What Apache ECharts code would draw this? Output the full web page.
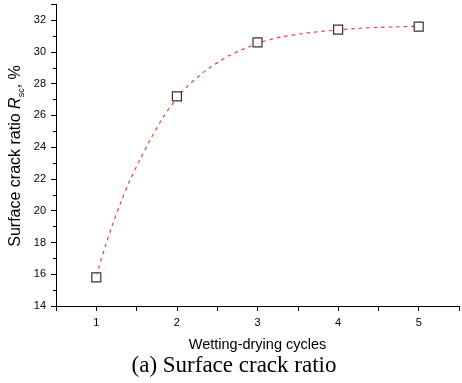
<!DOCTYPE html>
<html>
<head>
<meta charset="utf-8">
<script src="https://cdn.jsdelivr.net/npm/echarts@6/dist/echarts.min.js"></script>
<style>
html,body{margin:0;padding:0;background:#fff;}
#c{width:462px;height:383px;}
</style>
</head>
<body>
<div id="c"></div>
<script>
// Measured points
var cycles = [1, 2, 3, 4, 5];
var crackRatio = [15.8, 27.2, 30.6, 31.4, 31.6];
// Fitted curve
var fitX = [1.0, 1.11, 1.2, 1.3, 1.42, 1.54, 1.67, 1.83, 2.0, 2.13, 2.27, 2.39, 2.52, 2.65, 2.79, 2.91, 3.0, 3.16, 3.3, 3.56, 3.69, 3.83, 4.0, 4.21, 4.34, 4.47, 4.73, 4.86, 5.0];
var fitY = [15.9, 17.74, 19.1, 20.48, 21.95, 23.2, 24.47, 25.9, 27.1, 27.84, 28.47, 28.95, 29.38, 29.77, 30.1, 30.35, 30.55, 30.78, 30.95, 31.16, 31.24, 31.31, 31.39, 31.47, 31.51, 31.54, 31.58, 31.6, 31.61];
// Axis settings
var xTickLabels = ['1', '2', '3', '4', '5'];
var yMin = 14, yMax = 33, yStep = 2;

var pts = cycles.map(function (c, i) { return [c, crackRatio[i]]; });
var fit = fitX.map(function (x, i) { return [x, fitY[i]]; });

var sans = 'Liberation Sans, Arial, sans-serif';
var chart = echarts.init(document.getElementById('c'));
chart.setOption({
  animation: false,
  backgroundColor: '#fff',
  grid: { left: 56, right: 0, top: 4.3, bottom: 77 },
  xAxis: {
    type: 'value', min: 0.5, max: 5.5, interval: 0.5,
    axisLine: { lineStyle: { color: '#000', width: 1 } },
    axisTick: { show: true, inside: false, length: 5, lineStyle: { color: '#000' } },
    minorTick: { show: false },
    splitLine: { show: false },
    axisLabel: {
      color: '#000', fontSize: 11, fontFamily: sans, margin: 11,
      formatter: function (v) {
        var i = xTickLabels.indexOf(String(v));
        return i >= 0 ? xTickLabels[i] : '';
      }
    },
    name: 'Wetting-drying cycles', nameLocation: 'middle', nameGap: 31,
    nameTextStyle: { color: '#000', fontSize: 14.5, fontFamily: sans }
  },
  yAxis: {
    type: 'value', min: yMin, max: yMax, interval: yStep,
    axisLine: { show: true, lineStyle: { color: '#000', width: 1 } },
    axisTick: { show: true, inside: false, length: 5, lineStyle: { color: '#000' } },
    minorTick: { show: true, splitNumber: 2, length: 3, lineStyle: { color: '#000' } },
    splitLine: { show: false },
    axisLabel: {
      color: '#000', fontSize: 11, fontFamily: sans, margin: 10,
      formatter: function (v) { return (v % 2 === 0) ? String(v) : ''; }
    }
  },
  graphic: [
    {
      type: 'text', x: 16, y: 156, rotation: Math.PI / 2,
      style: {
        text: '{a|Surface crack ratio }{i|R}{s|sc}{a|, %}',
        align: 'center', verticalAlign: 'middle',
        rich: {
          a: { fontSize: 16, fontFamily: sans, fill: '#000', lineHeight: 20 },
          i: { fontSize: 16, fontFamily: sans, fontStyle: 'italic', fill: '#000', lineHeight: 20 },
          s: { fontSize: 9, fontFamily: sans, fill: '#000', lineHeight: 12, verticalAlign: 'bottom' }
        }
      }
    },
    {
      type: 'text', x: 234, y: 366,
      style: {
        text: '(a) Surface crack ratio',
        align: 'center', verticalAlign: 'middle',
        font: '23px "Liberation Serif", "Times New Roman", serif',
        fill: '#000'
      }
    }
  ],
  series: [
    {
      type: 'line', data: fit, smooth: 0.3, symbol: 'none', z: 2,
      lineStyle: { color: '#f04030', width: 1.2, type: [3.5, 4] }
    },
    {
      type: 'scatter', data: pts, symbol: 'rect', symbolSize: 9, z: 3,
      itemStyle: { color: '#fff', borderColor: '#000', borderWidth: 1.2 }
    }
  ]
});
</script>
</body>
</html>
